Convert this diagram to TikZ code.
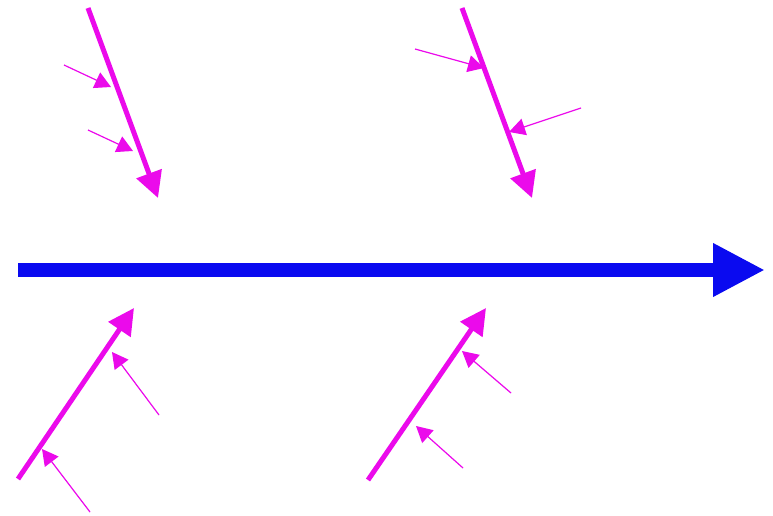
\documentclass[tikz,border=0pt]{standalone}
\usetikzlibrary{arrows.meta}
\definecolor{bone}{RGB}{235,10,235}
\definecolor{spine}{RGB}{10,10,240}
\tikzset{
  bonearrow/.style={draw=bone,line width=5pt,-{Triangle[length=26pt,width=26pt]},fill=bone},
  causearrow/.style={draw=bone,line width=1.2pt,-{Triangle[length=16pt,width=17pt]},fill=bone},
  spinearrow/.style={draw=spine,line width=14pt,-{Triangle[length=52pt,width=50pt]},fill=spine}
}
\begin{document}
\begin{tikzpicture}[x=1pt,y=-1pt]
\useasboundingbox (0,0) rectangle (773,516);
% spine
\coordinate (s0) at (18,270);
\coordinate (s1) at (765,270);
\draw[spinearrow] (s0) -- (s1);
% top-left bone
\coordinate (a0) at (88,8);
\coordinate (a1) at (158,198);
\draw[bonearrow] (a0) -- (a1);
\coordinate (a2) at (64,65);
\coordinate (a3) at (111,87);
\draw[causearrow] (a2) -- (a3);
\coordinate (a4) at (88,130);
\coordinate (a5) at (133,151);
\draw[causearrow] (a4) -- (a5);
% top-right bone
\coordinate (b0) at (462,8);
\coordinate (b1) at (532,198);
\draw[bonearrow] (b0) -- (b1);
\coordinate (b2) at (415,49);
\coordinate (b3) at (484,68);
\draw[causearrow] (b2) -- (b3);
\coordinate (b4) at (581,108);
\coordinate (b5) at (509,132);
\draw[causearrow] (b4) -- (b5);
% bottom-left bone
\coordinate (c0) at (18,479);
\coordinate (c1) at (134,308);
\draw[bonearrow] (c0) -- (c1);
\coordinate (c2) at (159,415);
\coordinate (c3) at (112,352);
\draw[causearrow] (c2) -- (c3);
\coordinate (c4) at (90,512);
\coordinate (c5) at (42,449);
\draw[causearrow] (c4) -- (c5);
% bottom-right bone
\coordinate (d0) at (368,480);
\coordinate (d1) at (486,308);
\draw[bonearrow] (d0) -- (d1);
\coordinate (d2) at (511,393);
\coordinate (d3) at (462,351);
\draw[causearrow] (d2) -- (d3);
\coordinate (d4) at (463,468);
\coordinate (d5) at (416,426);
\draw[causearrow] (d4) -- (d5);
\end{tikzpicture}
\end{document}
